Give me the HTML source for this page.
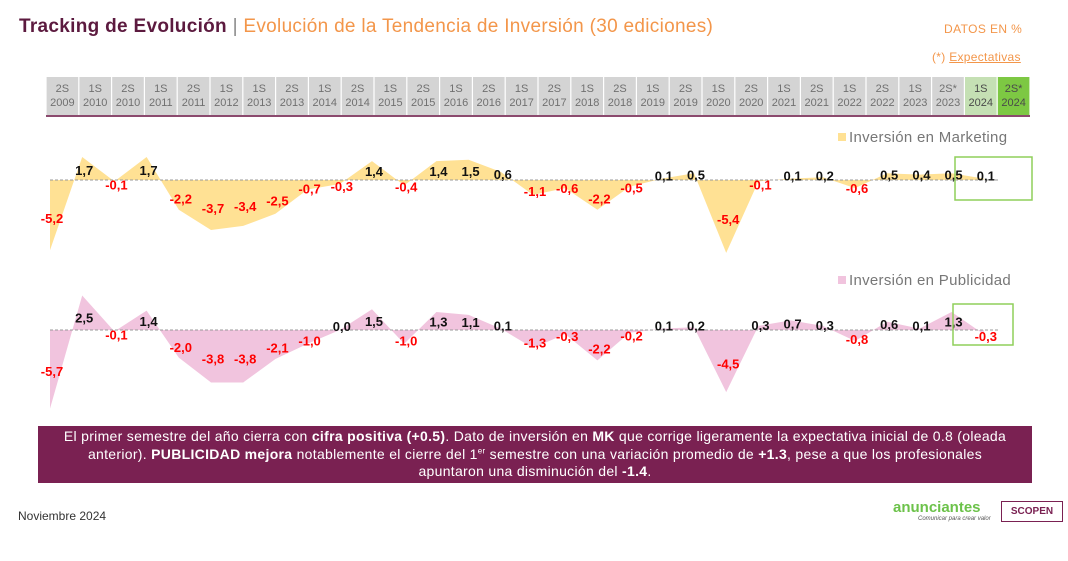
<!DOCTYPE html>
<html><head><meta charset="utf-8"><style>
body{margin:0;width:1068px;height:561px;background:#fff;font-family:"Liberation Sans",sans-serif;position:relative;overflow:hidden}
.a{position:absolute;white-space:nowrap}
</style></head><body>
<div class="a" style="left:19px;top:16px;font-size:19px;letter-spacing:0.3px"><b style="color:#5c1a3f">Tracking de Evolución</b> <span style="color:#888">|</span> <span style="color:#f3964a">Evolución de la Tendencia de Inversión (30 ediciones)</span></div>
<div class="a" style="left:944px;top:22px;font-size:12px;letter-spacing:0.4px;color:#f3964a">DATOS EN %</div>
<div class="a" style="left:932px;top:50px;font-size:12px;letter-spacing:0.3px;color:#f3964a">(*) <u>Expectativas</u></div>
<svg class="a" style="left:0;top:0" width="1068" height="420" id="svg"></svg>
<div class="a" style="left:38px;top:426px;width:994px;height:57px;background:#7a2152;color:#fff;font-size:14px;letter-spacing:0.3px;line-height:17.5px;text-align:center;white-space:normal;padding:2px 14px 0;box-sizing:border-box">El primer semestre del año cierra con <b>cifra positiva (+0.5)</b>. Dato de inversión en <b>MK</b> que corrige ligeramente la expectativa inicial de 0.8 (oleada anterior). <b>PUBLICIDAD mejora</b> notablemente el cierre del 1<sup style="font-size:8px;line-height:0">er</sup> semestre con una variación promedio de <b>+1.3</b>, pese a que los profesionales<br>apuntaron una disminución del <b>-1.4</b>.</div>
<div class="a" style="left:18px;top:509px;font-size:12px;color:#333">Noviembre 2024</div>
<div class="a" style="left:893px;top:499px;font-size:15px;font-weight:bold;color:#6cc24a">anunciantes</div>
<div class="a" style="left:918px;top:516px;font-size:6px;font-style:italic;color:#555">Comunicar para crear valor</div>
<div class="a" style="left:1001px;top:501px;width:60px;height:19px;border:1px solid #7a2152;color:#7a2152;font-size:10px;font-weight:bold;text-align:center;line-height:19px">SCOPEN</div>
<script>
const periods=["2S","1S","2S","1S","2S","1S","1S","2S","1S","2S","1S","2S","1S","2S","1S","2S","1S","2S","1S","2S","1S","2S","1S","2S","1S","2S","1S","2S*","1S","2S*"];
const years=["2009","2010","2010","2011","2011","2012","2013","2013","2014","2014","2015","2015","2016","2016","2017","2017","2018","2018","2019","2019","2020","2020","2021","2021","2022","2022","2023","2023","2024","2024"];
const marketing=[-5.2,1.7,-0.1,1.7,-2.2,-3.7,-3.4,-2.5,-0.7,-0.3,1.4,-0.4,1.4,1.5,0.6,-1.1,-0.6,-2.2,-0.5,0.1,0.5,-5.4,-0.1,0.1,0.2,-0.6,0.5,0.4,0.5,0.1];
const publicidad=[-5.7,2.5,-0.1,1.4,-2.0,-3.8,-3.8,-2.1,-1.0,0.0,1.5,-1.0,1.3,1.1,0.1,-1.3,-0.3,-2.2,-0.2,0.1,0.2,-4.5,0.3,0.7,0.3,-0.8,0.6,0.1,1.3,-0.3];
const NS="http://www.w3.org/2000/svg",svg=document.getElementById('svg');
function mk(t,a,txt){const e=document.createElementNS(NS,t);for(const k in a)e.setAttribute(k,a[k]);if(txt!=null)e.textContent=txt;svg.appendChild(e);return e;}
const cw=32.8,cx0=46;
for(let i=0;i<30;i++){
  const fill=i==29?"#7dc843":i==28?"#c5e0b4":"#d4d4d4";
  const tc=i>=28?"#4a4a4a":"#707070";
  const r=mk('rect',{x:cx0+i*cw+0.6,y:77,width:cw-1.2,height:38,fill:fill});
  
  
  const t=mk('text',{x:cx0+i*cw+cw/2,y:92,"font-size":11,fill:tc,"text-anchor":"middle"},periods[i]);
  
  
  const t2=mk('text',{x:cx0+i*cw+cw/2,y:106,"font-size":11,fill:tc,"text-anchor":"middle"},years[i]);
  
  
}
const hl=mk('rect',{x:46,y:115,width:30*cw,height:2,fill:"#8b4a6e"});


const xs=i=>50+i*32.2;
function series(vals,zero,k,color,name,legY,legText){
  const ys=v=>zero-v*k;
  let pts=`${xs(0)},${zero} `+vals.map((v,i)=>`${xs(i)},${ys(v)}`).join(' ')+` ${xs(29)},${zero}`;
  const p=mk('polygon',{points:pts,fill:color});
  
  
  const l=mk('line',{x1:50,x2:1000,y1:zero,y2:zero,stroke:"#999","stroke-dasharray":"3,2","stroke-width":1});
  
  
  vals.forEach((v,i)=>{
    const y=v<0?zero+(-v)*6.5+4:zero-4-v*3.5;
    const t=mk('text',{x:xs(i)+2,y:y+5,"font-size":13,"font-weight":"bold",fill:v<0?"#ff0000":"#111","text-anchor":"middle"},v.toFixed(1).replace('.',','));
    
    
  });
  const s=mk('rect',{x:838,y:legY-5,width:8,height:8,fill:color});
  
  
  const lt=mk('text',{x:849,y:legY+4,"font-size":15,fill:"#777","letter-spacing":"0.3"},legText);
  
  
}
series(marketing,180,13.5,"#ffe194","marketing",138,"Inversión en Marketing");
series(publicidad,330,13.8,"#f1c4de","publicidad",281,"Inversión en Publicidad");
const b1=mk('rect',{x:955,y:157,width:77,height:43,fill:"none",stroke:"#8fcf5a","stroke-width":1.5});


const b2=mk('rect',{x:953,y:304,width:60,height:41,fill:"none",stroke:"#8fcf5a","stroke-width":1.5});


</script>
</body></html>
